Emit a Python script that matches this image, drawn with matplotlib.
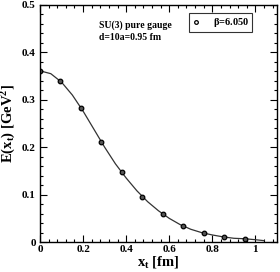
import matplotlib
matplotlib.use("Agg")
import matplotlib.pyplot as plt
from matplotlib.ticker import MultipleLocator

# data points
x_t = [0.0, 0.095, 0.19, 0.285, 0.38, 0.475, 0.57, 0.665, 0.76, 0.855, 0.95]
E = [0.361, 0.339, 0.282, 0.212, 0.147, 0.0956, 0.059, 0.034, 0.0196, 0.011, 0.007]

# fit curve
curve_x = [0.0, 0.05, 0.1, 0.15, 0.2, 0.25, 0.3, 0.35, 0.4, 0.45, 0.5, 0.55,
           0.6, 0.65, 0.7, 0.75, 0.8, 0.85, 0.9, 0.95, 1.0, 1.04]
curve_y = [0.361, 0.355, 0.337, 0.310, 0.276, 0.238, 0.200, 0.165, 0.135, 0.108,
           0.085, 0.066, 0.050, 0.037, 0.027, 0.020, 0.015, 0.011, 0.008, 0.007,
           0.005, 0.003]

xticks = [0, 0.2, 0.4, 0.6, 0.8, 1]
xtick_labels = ["0", "0.2", "0.4", "0.6", "0.8", "1"]
yticks = [0, 0.1, 0.2, 0.3, 0.4, 0.5]
ytick_labels = ["0", "0.1", "0.2", "0.3", "0.4", "0.5"]

plt.rcParams['font.family'] = ['Liberation Serif', 'DejaVu Serif']
plt.rcParams['font.weight'] = 'bold'
plt.rcParams['axes.labelweight'] = 'bold'
plt.rcParams['mathtext.fontset'] = 'custom'
plt.rcParams['mathtext.rm'] = 'Liberation Serif:bold'
plt.rcParams['mathtext.it'] = 'Liberation Serif:bold'
plt.rcParams['mathtext.bf'] = 'Liberation Serif:bold'

fig = plt.figure(figsize=(2.8, 2.72), dpi=100)
ax = fig.add_axes([0.143, 0.110, 0.846, 0.872])

ax.plot(curve_x, curve_y, color='#333333', lw=0.9)
ax.plot(x_t, E, 'o', ms=3.3, mfc='#555555', mec='black', mew=0.9,
        label=r'$\beta$=6.050')

ax.set_xlim(0, 1.1)
ax.set_ylim(0, 0.5)
ax.set_xticks(xticks)
ax.set_xticklabels(xtick_labels)
ax.set_yticks(yticks)
ax.set_yticklabels(ytick_labels)
ax.xaxis.set_minor_locator(MultipleLocator(0.04))
ax.yaxis.set_minor_locator(MultipleLocator(0.02))
ax.tick_params(which='both', direction='in', top=True, right=True, labelsize=8, width=0.8)
ax.tick_params(axis='x', pad=2)
ax.tick_params(axis='y', pad=3)
ax.tick_params(which='major', length=5)
ax.tick_params(which='minor', length=2.5)
for s in ax.spines.values():
    s.set_linewidth(1.0)

ax.set_xlabel(r'x$_{\rm t}$ [fm]', fontsize=10.5, fontweight='bold', labelpad=0)
ax.set_ylabel(r'E(x$_{\rm t}$) [GeV$^2$]', fontsize=10.5, fontweight='bold', labelpad=3)

ax.text(0.275, 0.452, 'SU(3) pure gauge', transform=ax.transData, fontsize=7, fontweight='bold')
ax.text(0.275, 0.427, 'd=10a=0.95 fm', transform=ax.transData, fontsize=7, fontweight='bold')

leg = ax.legend(loc='upper right', bbox_to_anchor=(0.895, 0.965), fontsize=7.5,
                frameon=True, fancybox=False, edgecolor='black', handlelength=0.8,
                borderpad=0.3, handletextpad=1.2, markerscale=0.8, borderaxespad=0)
leg.get_frame().set_linewidth(0.8)
for h in leg.legend_handles:
    h.set_markerfacecolor('white')

fig.savefig('out.png', dpi=100)
